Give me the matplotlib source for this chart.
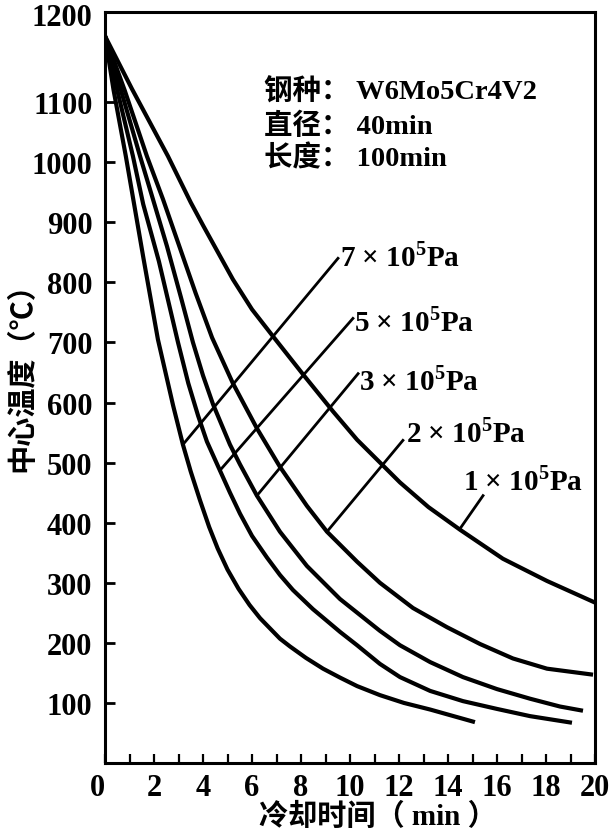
import numpy as np
import matplotlib
matplotlib.use("Agg")
import matplotlib.pyplot as plt
from matplotlib.ticker import MultipleLocator

plt.rcParams['mathtext.fontset'] = 'custom'
plt.rcParams['mathtext.rm'] = 'Liberation Serif:bold'
plt.rcParams['mathtext.bf'] = 'Liberation Serif:bold'
FONT = ['Liberation Serif', 'Noto Sans CJK SC', 'DejaVu Sans']

## Curve data (time in min, centre temperature in degC)
t_1 = [0, 1.1, 2.57, 3.5, 4.0, 4.61, 5.22, 6.0, 6.86, 8.08, 9.31, 10.29,
       11.35, 12.04, 13.2, 14.5, 16.24, 18.04, 20]
T_1 = [1210, 1122, 1010, 933, 895, 850, 805, 755, 710, 647, 585, 538,
       495, 467, 426, 388, 340, 303, 267]

t_2 = [0, 0.8, 1.71, 2.37, 3.06, 3.7, 4.37, 5.22, 6.2, 7.14, 8.24, 9.06,
       10.29, 11.22, 12.57, 13.96, 15.31, 16.65, 18.04, 19.92]
T_2 = [1210, 1120, 1010, 938, 857, 782, 708, 632, 557, 493, 428, 385,
       335, 300, 258, 226, 198, 174, 157, 147]

t_3 = [0, 0.65, 1.43, 1.96, 2.53, 3.1, 3.59, 4.0, 4.41, 5.10, 5.51, 6.2,
       7.14, 8.24, 9.59, 11.22, 12.04, 13.27, 14.61, 16.0, 17.35, 18.57, 19.51]
T_3 = [1210, 1120, 1010, 938, 860, 775, 700, 645, 597, 530, 497, 445,
       385, 328, 273, 220, 196, 168, 143, 123, 107, 94, 87]

t_5 = [0, 0.5, 1.14, 1.56, 2.2, 2.98, 3.4, 3.8, 4.16, 4.69, 5.1, 5.51,
       6.0, 6.61, 7.14, 7.67, 8.49, 8.9, 9.6, 10.29, 11.22, 12.04, 13.27,
       14.61, 16.0, 17.35, 19.06]
T_5 = [1210, 1120, 1010, 930, 835, 700, 632, 578, 535, 487, 450, 415,
       378, 342, 313, 288, 256, 242, 218, 196, 165, 143, 120, 103, 90, 78, 67]

t_7 = [0, 0.35, 0.85, 1.57, 2.16, 2.78, 3.18, 3.5, 3.88, 4.25, 4.6, 5.0,
       5.45, 5.9, 6.33, 7.14, 7.55, 8.2, 8.9, 9.6, 10.29, 11.22, 12.2,
       13.27, 15.1]
T_7 = [1210, 1120, 1010, 840, 705, 595, 530, 485, 437, 393, 357, 322,
       290, 263, 241, 207, 194, 175, 157, 142, 128, 113, 100, 89, 68]

curves = [(t_1, T_1), (t_2, T_2), (t_3, T_3), (t_5, T_5), (t_7, T_7)]

## Pressure labels with leader lines: (foot on curve, top of leader, text)
labels = [r"7 × 10$^{\mathbf{5}}$Pa", r"5 × 10$^{\mathbf{5}}$Pa",
          r"3 × 10$^{\mathbf{5}}$Pa", r"2 × 10$^{\mathbf{5}}$Pa",
          r"1 × 10$^{\mathbf{5}}$Pa"]
lead_foot = [(3.18, 530), (4.69, 487), (6.2, 445), (9.06, 385), (14.49, 390)]
lead_top = [(9.51, 840), (10.12, 740), (10.33, 648), (12.16, 537), (15.43, 445)]
text_pos = [(9.6, 843), (10.15, 735), (10.35, 637), (12.3, 550), (14.6, 470)]

info = ["钢种： W6Mo5Cr4V2", "直径： 40min", "长度： 100min"]
info_y = [1118, 1062, 1007]

xticks = np.arange(0, 21, 2)
yticks = np.arange(100, 1101, 100)

fig = plt.figure(figsize=(6.14, 8.37), dpi=100)
ax = fig.add_axes([105/614, 73/837, 490/614, 751/837])

for t, T in curves:
    ax.plot(t, T, color='k', lw=3.0, solid_capstyle='butt',
            solid_joinstyle='round')

for (x0, y0), (x1, y1), (xt, yt), s in zip(lead_foot, lead_top, text_pos, labels):
    ax.plot([x0, x1], [y0, y1], color='k', lw=2.0)
    ax.text(xt, yt, s, ha='left', va='center', fontsize=21,
            family=FONT, weight='bold')

for s, y in zip(info, info_y):
    ax.text(6.5, y, s, ha='left', va='center', fontsize=20.5,
            family=FONT, weight='bold')

ax.set_xlim(0, 20)
ax.set_ylim(0, 1250)
ax.set_xticks(xticks)
ax.xaxis.set_minor_locator(MultipleLocator(1))
ax.set_yticks(yticks)
ax.tick_params(axis='both', which='both', direction='in', color='k')
ax.tick_params(axis='x', which='both', length=6.5, width=1.6, pad=7)
ax.tick_params(axis='y', length=7, width=2.0, pad=9)
ax.set_xticklabels([str(v) for v in xticks])
for lab in ax.get_xticklabels() + ax.get_yticklabels():
    lab.set_fontfamily(FONT)
    lab.set_fontweight('bold')
    lab.set_fontsize(22)
ax.get_xticklabels()[0].set_ha('right')
for sp in ax.spines.values():
    sp.set_linewidth(2.2)

fig.text(92/614, 1 - 18/837, "1200", ha='right', va='center', fontsize=22,
         family=FONT, weight='bold')
fig.text(22/614, 1 - 370/837, "中心温度（℃）", rotation=90, ha='center',
         va='center', fontsize=21, family=FONT, weight='bold')
fig.text(378/614, 1 - 817/837, "冷却时间（ min ）", ha='center', va='center',
         fontsize=21, family=FONT, weight='bold')

fig.savefig("out.png", dpi=100)
